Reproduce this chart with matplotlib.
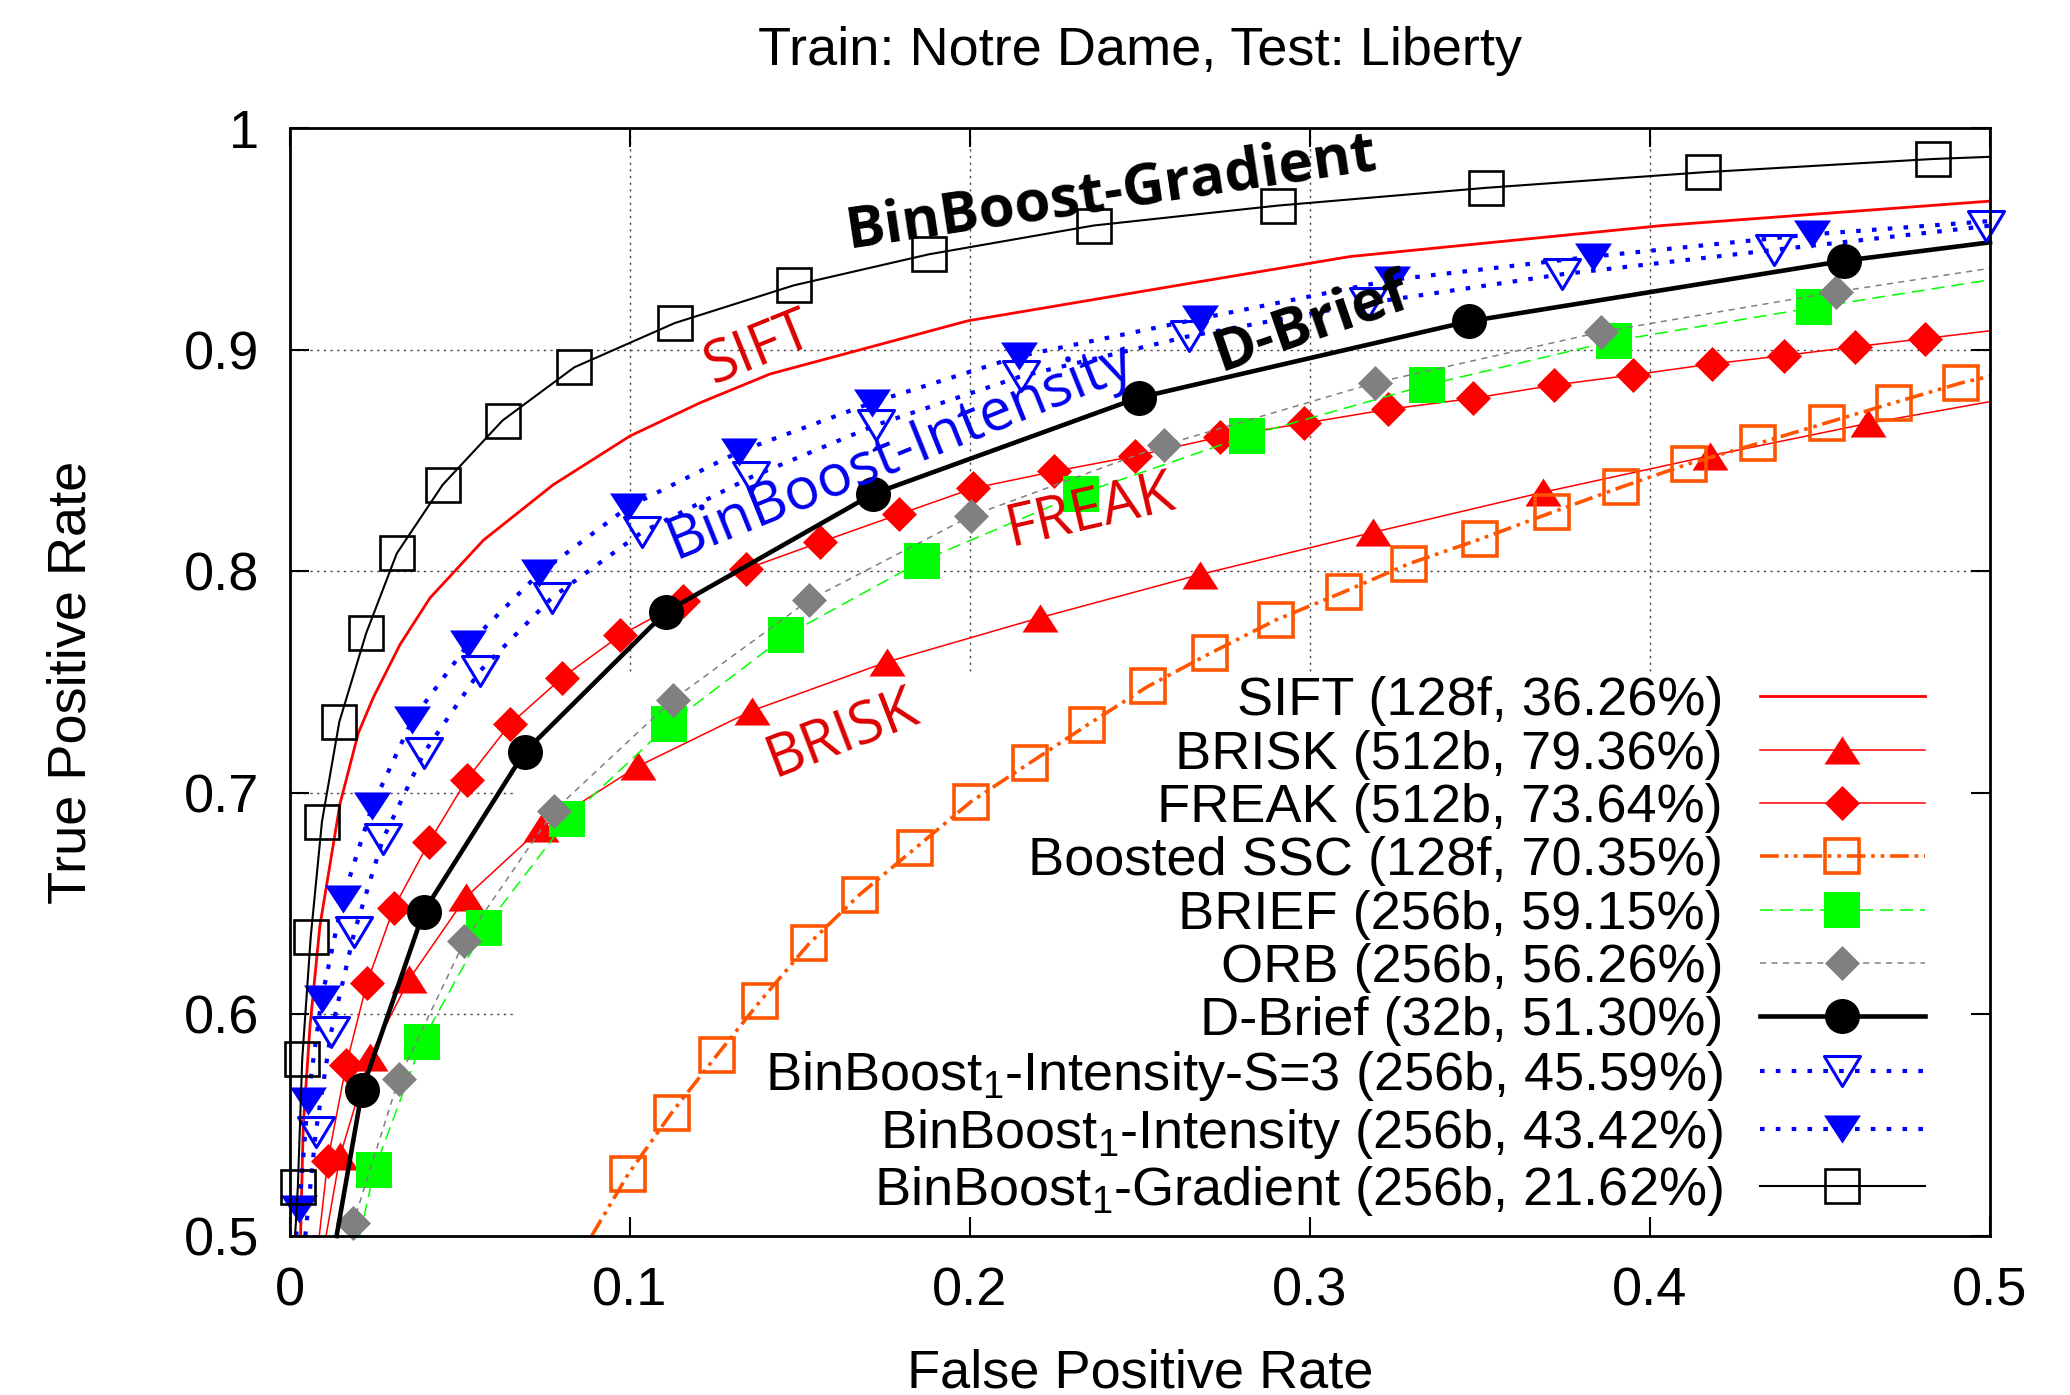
import matplotlib
matplotlib.use("Agg")
import matplotlib.pyplot as plt
from matplotlib.path import Path
from matplotlib.markers import MarkerStyle

plt.rcParams["font.family"] = ["Liberation Sans", "DejaVu Sans"]
plt.rcParams["mathtext.fontset"] = "custom"
plt.rcParams["mathtext.rm"] = "Liberation Sans"
plt.rcParams["mathtext.it"] = "Liberation Sans:italic"
plt.rcParams["mathtext.bf"] = "Liberation Sans:bold"

# ---------------------------------------------------------------- data
title = "Train: Notre Dame, Test: Liberty"
x_label = "False Positive Rate"
y_label = "True Positive Rate"
x_ticks = [0, 0.1, 0.2, 0.3, 0.4, 0.5]
x_tick_labels = ["0", "0.1", "0.2", "0.3", "0.4", "0.5"]
y_ticks = [0.5, 0.6, 0.7, 0.8, 0.9, 1.0]
y_tick_labels = ["0.5", "0.6", "0.7", "0.8", "0.9", "1"]

sift_fpr = [0.0031, 0.0039, 0.0059, 0.0088, 0.0147, 0.0201, 0.0245, 0.0324, 0.0412,
            0.0569, 0.0774, 0.1000, 0.1206, 0.1412, 0.1994, 0.2650, 0.3118, 0.4037, 0.5000]
sift_tpr = [0.500, 0.550, 0.595, 0.640, 0.695, 0.727, 0.743, 0.767, 0.788,
            0.814, 0.839, 0.861, 0.876, 0.889, 0.913, 0.930, 0.942, 0.956, 0.967]

brisk_fpr = [0.0106, 0.0147, 0.0235, 0.0351, 0.0518, 0.0737, 0.1024, 0.1358, 0.1755,
             0.2205, 0.2676, 0.3185, 0.3685, 0.4175, 0.4641, 0.5000]
brisk_tpr = [0.500, 0.536, 0.581, 0.616, 0.653, 0.684, 0.712, 0.737, 0.759,
             0.779, 0.7985, 0.8175, 0.8356, 0.852, 0.8667, 0.8765]

freak_fpr = [0.0086, 0.0111, 0.0165, 0.0226, 0.0305, 0.0410, 0.0520, 0.0647, 0.0801,
             0.0971, 0.1157, 0.1341, 0.1558, 0.1790, 0.2009, 0.2247, 0.2486, 0.2735,
             0.2981, 0.3228, 0.3479, 0.3719, 0.3951, 0.4181, 0.4394, 0.4604, 0.4809, 0.5000]
freak_tpr = [0.500, 0.534, 0.577, 0.614, 0.648, 0.678, 0.706, 0.731, 0.752,
             0.771, 0.7865, 0.801, 0.813, 0.8256, 0.8374, 0.845, 0.852, 0.8606,
             0.8667, 0.873, 0.878, 0.884, 0.8886, 0.8935, 0.8973, 0.9013, 0.905, 0.9085]

ssc_fpr = [0.0887, 0.0995, 0.1123, 0.1255, 0.1383, 0.1527, 0.1675, 0.1839, 0.2003,
           0.2176, 0.2345, 0.2523, 0.2707, 0.2900, 0.3100, 0.3290, 0.3499, 0.3711,
           0.3916, 0.4116, 0.4319, 0.4520, 0.4717, 0.4916, 0.5000]
ssc_tpr = [0.500, 0.528, 0.5557, 0.5815, 0.606, 0.632, 0.654, 0.675, 0.696,
           0.7135, 0.7306, 0.748, 0.763, 0.778, 0.7907, 0.8033, 0.8144, 0.8265,
           0.838, 0.8486, 0.8577, 0.867, 0.876, 0.885, 0.888]

brief_fpr = [0.0205, 0.0248, 0.0387, 0.0572, 0.0816, 0.1116, 0.1459, 0.1858, 0.2325,
             0.2814, 0.3343, 0.3895, 0.4483, 0.5000]
brief_tpr = [0.500, 0.5296, 0.5874, 0.639, 0.688, 0.731, 0.771, 0.8046, 0.835,
             0.861, 0.884, 0.904, 0.919, 0.9315]

orb_fpr = [0.0175, 0.0186, 0.0320, 0.0513, 0.0777, 0.1126, 0.1527, 0.2004, 0.2572,
           0.3191, 0.3857, 0.4546, 0.5000]
orb_tpr = [0.500, 0.5058, 0.571, 0.633, 0.692, 0.742, 0.787, 0.825, 0.857,
           0.885, 0.908, 0.926, 0.9367]

dbrief_fpr = [0.0137, 0.0212, 0.0393, 0.0690, 0.1106, 0.1714, 0.2496, 0.3469, 0.4572, 0.5000]
dbrief_tpr = [0.500, 0.5658, 0.6463, 0.7184, 0.7817, 0.8348, 0.8783, 0.9128, 0.9401, 0.9484]

bbs3_fpr = [0.0045, 0.0076, 0.0121, 0.0189, 0.0273, 0.0394, 0.0559, 0.0770, 0.1034,
            0.1357, 0.1724, 0.2151, 0.2643, 0.3170, 0.3741, 0.4365, 0.4988, 0.5000]
bbs3_tpr = [0.500, 0.547, 0.592, 0.637, 0.679, 0.718, 0.755, 0.788, 0.8175,
            0.8425, 0.866, 0.888, 0.906, 0.921, 0.934, 0.945, 0.9557, 0.9560]

bbint_fpr = [0.0018, 0.0027, 0.0052, 0.0093, 0.0155, 0.0242, 0.0360, 0.0524, 0.0733,
             0.0995, 0.1322, 0.1711, 0.2144, 0.2676, 0.3242, 0.3833, 0.4476, 0.5000]
bbint_tpr = [0.500, 0.512, 0.561, 0.607, 0.652, 0.694, 0.733, 0.767, 0.799,
             0.829, 0.854, 0.876, 0.897, 0.914, 0.9315, 0.942, 0.952, 0.958]

bbgrad_fpr = [0.0015, 0.0023, 0.0036, 0.0061, 0.0094, 0.0145, 0.0224, 0.0314, 0.0449,
              0.0625, 0.0836, 0.1132, 0.1482, 0.1879, 0.2364, 0.2906, 0.3518, 0.4155,
              0.4831, 0.5000]
bbgrad_tpr = [0.500, 0.522, 0.580, 0.635, 0.687, 0.732, 0.772, 0.808, 0.839,
              0.868, 0.892, 0.912, 0.929, 0.943, 0.956, 0.965, 0.973, 0.980,
              0.986, 0.987]

labels = [
    "SIFT (128f, 36.26%)",
    "BRISK (512b, 79.36%)",
    "FREAK (512b, 73.64%)",
    "Boosted SSC (128f, 70.35%)",
    "BRIEF (256b, 59.15%)",
    "ORB (256b, 56.26%)",
    "D-Brief (32b, 51.30%)",
    r"BinBoost$_{\mathregular{1}}$-Intensity-S=3 (256b, 45.59%)",
    r"BinBoost$_{\mathregular{1}}$-Intensity (256b, 43.42%)",
    r"BinBoost$_{\mathregular{1}}$-Gradient (256b, 21.62%)",
]

# in-plot curve names: (text, fpr, tpr, angle, colour, bold)
curve_names = [
    ("BinBoost-Gradient", 0.2417, 0.9705, 8.5, "black", True),
    ("SIFT", 0.1379, 0.9000, 22, "#DD0000", False),
    ("BinBoost-Intensity", 0.1794, 0.8538, 22, "#0000EE", False),
    ("D-Brief", 0.3003, 0.9120, 19, "black", True),
    ("FREAK", 0.2353, 0.8267, 13, "#DD0000", False),
    ("BRISK", 0.1624, 0.7260, 21, "#DD0000", False),
]

# ---------------------------------------------------------------- markers
def closed_marker(verts, join="miter"):
    codes = [Path.MOVETO] + [Path.LINETO] * (len(verts) - 1) + [Path.CLOSEPOLY]
    return MarkerStyle(Path(list(verts) + [verts[0]], codes), joinstyle=join)

tri_up = closed_marker([(-1, -0.78), (1, -0.78), (0, 0.78)])
tri_down = closed_marker([(-1, 0.76), (1, 0.76), (0, -0.76)])
tri_down_open = closed_marker([(-1, 0.83), (1, 0.83), (0, -0.83)])
diamond = closed_marker([(0, 1), (1, 0), (0, -1), (-1, 0)])

RED = "#FF0000"
ORANGE = "#FF5500"
GREEN = "#00FF00"
GREY = "#808080"
BLUE = "#0000FF"

fig = plt.figure(figsize=(20.7, 13.95), dpi=100)
ax = fig.add_axes([290 / 2070, 159 / 1395, 1700 / 2070, 1108 / 1395])

inner = slice(1, -1)
ax.plot(sift_fpr, sift_tpr, color=RED, lw=2.0, label=labels[0], zorder=3)
ax.plot(brisk_fpr, brisk_tpr, color=RED, lw=1.1, marker=tri_up, ms=25.9, mew=0,
        markevery=inner, label=labels[1], zorder=3)
ax.plot(freak_fpr, freak_tpr, color=RED, lw=1.1, marker=diamond, ms=25.2, mew=0,
        markevery=inner, label=labels[2], zorder=3)
ax.plot(ssc_fpr, ssc_tpr, color=ORANGE, lw=2.6,
        linestyle=(0, (5.2, 1.6, 1.0, 1.6, 1.0, 1.6)),
        marker="s", ms=24.5, mew=2.6, mfc="none", mec=ORANGE,
        markevery=inner, label=labels[3], zorder=3)
ax.plot(brief_fpr, brief_tpr, color=GREEN, lw=1.1, linestyle=(0, (8.5, 4.6)),
        marker="s", ms=26.6, mew=0, markevery=inner, label=labels[4], zorder=3)
ax.plot(orb_fpr, orb_tpr, color=GREY, lw=1.1, linestyle=(0, (4, 3.5)),
        marker=diamond, ms=25.2, mew=0, markevery=inner, label=labels[5], zorder=3)
ax.plot(dbrief_fpr, dbrief_tpr, color="black", lw=3.3, marker="o", ms=25.2, mew=0,
        markevery=inner, label=labels[6], zorder=4)
ax.plot(bbs3_fpr, bbs3_tpr, color=BLUE, lw=3.0, linestyle=(0, (1.1, 2.7)),
        marker=tri_down_open, ms=26, mew=2.2, mfc="none", mec=BLUE,
        markevery=inner, label=labels[7], zorder=4)
ax.plot(bbint_fpr, bbint_tpr, color=BLUE, lw=3.0, linestyle=(0, (1.1, 2.7)),
        marker=tri_down, ms=26.6, mew=0, markevery=inner, label=labels[8], zorder=4)
ax.plot(bbgrad_fpr, bbgrad_tpr, color="black", lw=1.5, marker="s", ms=24, mew=1.9,
        mfc="none", mec="black", markevery=inner, label=labels[9], zorder=4)

for line in ax.get_lines():
    line.set_clip_on(False)

# dotted grid, hidden behind the key block in the lower right
key_left, key_top = 0.066, 0.755
grid_kw = dict(color="#444444", lw=1.0, linestyle=(0, (1.6, 3.2)), zorder=1)
for yv in y_ticks[1:-1]:
    ax.hlines(yv, x_ticks[0], key_left if yv < key_top else x_ticks[-1], **grid_kw)
for xv in x_ticks[1:-1]:
    ax.vlines(xv, key_top, y_ticks[-1], **grid_kw)

ax.set_xlim(x_ticks[0], x_ticks[-1])
ax.set_ylim(y_ticks[0], y_ticks[-1])
ax.set_xticks(x_ticks)
ax.set_xticklabels(x_tick_labels)
ax.set_yticks(y_ticks)
ax.set_yticklabels(y_tick_labels)
ax.tick_params(direction="in", length=13.7, width=1.5, top=True, right=True,
               labelsize=39, colors="black")
ax.tick_params(axis="x", pad=22)
ax.tick_params(axis="y", pad=22)
for sp in ax.spines.values():
    sp.set_linewidth(2.0)
    sp.set_zorder(5)

ax.set_title(title, fontsize=39, pad=45.5)
ax.set_xlabel(x_label, fontsize=39)
ax.set_ylabel(y_label, fontsize=39)
ax.xaxis.set_label_coords(0.5, -0.1015)
ax.yaxis.set_label_coords(-0.114, 0.5)

for text, fx, fy, ang, col, bold in curve_names:
    ax.text(fx, fy, text, rotation=ang, rotation_mode="anchor", ha="center", va="center",
            fontsize=42, color=col, family=["Open Sans", "DejaVu Sans"],
            fontweight="bold" if bold else "normal", zorder=6)

leg = ax.legend(loc="lower right", bbox_to_anchor=(0.9618, 0.0162), frameon=False,
                markerfirst=False, fontsize=39, handlelength=3.05, handletextpad=0.68,
                labelspacing=0.061, borderpad=0, borderaxespad=0)
leg.set_zorder(7)

fig.savefig("out.png", dpi=100)
